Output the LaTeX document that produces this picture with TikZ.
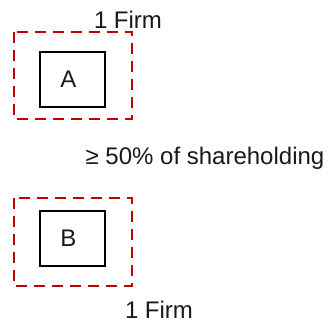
\documentclass[tikz,border=0pt]{standalone}
\usepackage{fontspec}
\setmainfont{Liberation Sans}
\begin{document}
\begin{tikzpicture}[x=1pt,y=-1pt,
  firmbox/.style={draw=black,line width=1.8pt},
  groupbox/.style={draw={rgb,255:red,192;green,0;blue,0},line width=2.8pt,dash pattern=on 11pt off 7pt},
  lbl/.style={font=\fontsize{24}{27}\selectfont,inner sep=0pt,text=black!90}]
\useasboundingbox (0,0) rectangle (329,323);
\draw[groupbox] (14,32) rectangle (132,119);
\node[firmbox,minimum width=65pt,minimum height=55pt,anchor=north west] (A) at (39,51) {};
\node[lbl] (la) at ([xshift=-4pt]A.center) {A};
\draw[groupbox] (14,198) rectangle (132,286);
\node[firmbox,minimum width=65pt,minimum height=55pt,anchor=north west] (B) at (39,210) {};
\node[lbl] (lb) at ([xshift=-4pt]B.center) {B};
\node[lbl,anchor=base] (t1) at (128,29) {1 Firm};
\node[lbl,anchor=base] (t2) at (205,165) {≥ 50\% of shareholding};
\node[lbl,anchor=base] (t3) at (159,318) {1 Firm};
\end{tikzpicture}
\end{document}
